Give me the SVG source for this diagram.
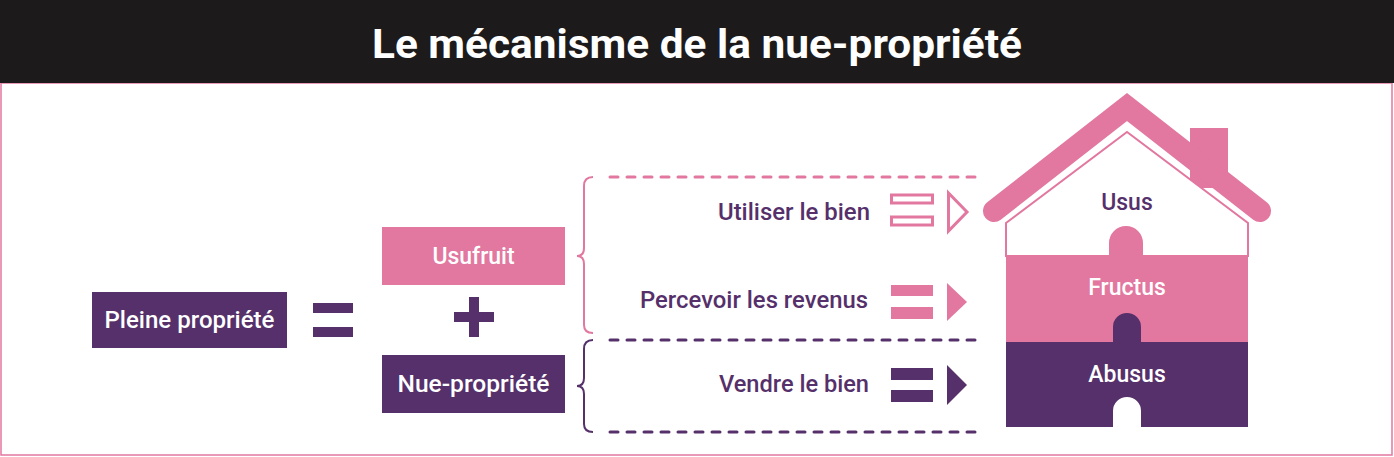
<svg xmlns="http://www.w3.org/2000/svg" width="1394" height="457" viewBox="0 0 1394 457">
<style>
.t{font-family:Roboto,"Liberation Sans",sans-serif;font-size:23px;font-weight:500}
.w{fill:#fff}.d{fill:#55306A}.p{fill:#E277A0}
.dash{fill:none;stroke-width:3;stroke-dasharray:8 9;stroke-linecap:round}
</style>
<rect width="1394" height="457" fill="#fff"/>
<rect x="1" y="83" width="1391" height="372" fill="none" stroke="#E277A0" stroke-width="1.5"/>
<g id="title"><rect width="1394" height="83" fill="#1C1A1B"/>
<text x="697" y="58" text-anchor="middle" class="w" style="font-family:Roboto,'Liberation Sans',sans-serif;font-size:40px;font-weight:bold" textLength="650" lengthAdjust="spacingAndGlyphs">Le mécanisme de la nue-propriété</text></g>
<g id="pleine"><rect x="92" y="292" width="195" height="56" class="d"/><text x="189.5" y="328" text-anchor="middle" class="t w" textLength="170" lengthAdjust="spacingAndGlyphs">Pleine propriété</text></g>
<g id="eq"><rect x="313" y="303" width="40" height="10" class="d"/><rect x="313" y="327" width="40" height="10" class="d"/></g>
<g id="usufruit"><rect x="382" y="227" width="183" height="58" class="p"/><text x="473.5" y="264" text-anchor="middle" class="t w">Usufruit</text></g>
<g id="plus"><rect x="454" y="312" width="40" height="10" class="d"/><rect x="469" y="297" width="10" height="40" class="d"/></g>
<g id="nue"><rect x="382" y="355" width="183" height="58" class="d"/><text x="473.5" y="392" text-anchor="middle" class="t w" textLength="152" lengthAdjust="spacingAndGlyphs">Nue-propriété</text></g>
<g id="connectors">
<path d="M593 177 Q584 177 584 186 V248 Q584 256 577 256 Q584 256 584 264 V325 Q584 333 593 333" fill="none" stroke="#E277A0" stroke-width="2"/>
<path d="M593 340 Q584 340 584 349 V378 Q584 386 577 386 Q584 386 584 394 V424 Q584 432 593 432" fill="none" stroke="#55306A" stroke-width="2"/>
<line x1="610" y1="177" x2="978" y2="177" class="dash" stroke="#E277A0"/>
<line x1="610" y1="340" x2="978" y2="340" class="dash" stroke="#55306A"/>
<line x1="610" y1="432" x2="978" y2="432" class="dash" stroke="#55306A"/>
</g>
<g id="utiliser"><text x="870" y="220" text-anchor="end" class="t d" textLength="152" lengthAdjust="spacingAndGlyphs">Utiliser le bien</text>
<rect x="891.5" y="195" width="41" height="8" fill="none" stroke="#E277A0" stroke-width="3"/>
<rect x="891.5" y="217" width="41" height="8" fill="none" stroke="#E277A0" stroke-width="3"/>
<path d="M948.5 193 L967 212 L948.5 231 Z" fill="none" stroke="#E277A0" stroke-width="3"/></g>
<g id="percevoir"><text x="868" y="308" text-anchor="end" class="t d" textLength="228" lengthAdjust="spacingAndGlyphs">Percevoir les revenus</text>
<rect x="891" y="285" width="42" height="11" class="p"/><rect x="891" y="307" width="42" height="12" class="p"/>
<path d="M947 283 L967 302 L947 321 Z" class="p"/></g>
<g id="vendre"><text x="869" y="392" text-anchor="end" class="t d" textLength="150" lengthAdjust="spacingAndGlyphs">Vendre le bien</text>
<rect x="891" y="368" width="42" height="12" class="d"/><rect x="891" y="390" width="42" height="12" class="d"/>
<path d="M947 365 L967 385 L947 405 Z" class="d"/></g>
<g id="house">
<rect x="1190" y="128" width="38" height="60" class="p"/>
<path d="M1006 223 L1127 132 L1248 223 V256 H1006 Z" fill="#fff" stroke="#E277A0" stroke-width="2"/>
<path d="M994 211 L1127 107 L1260 211" fill="none" stroke="#E277A0" stroke-width="22" stroke-linecap="round" stroke-linejoin="miter"/>
<path d="M1006 256 H1109 V243 A17 17 0 0 1 1143 243 V256 H1248 V342 H1006 Z" class="p"/>
<path d="M1006 342 H1113 V327 A14 14 0 0 1 1141 327 V342 H1248 V427 H1141 V411 A14 14 0 0 0 1113 411 V427 H1006 Z" class="d"/>
<text x="1127" y="210" text-anchor="middle" class="t d">Usus</text>
<text x="1127" y="295" text-anchor="middle" class="t w">Fructus</text>
<text x="1127" y="382" text-anchor="middle" class="t w">Abusus</text>
</g>
</svg>
